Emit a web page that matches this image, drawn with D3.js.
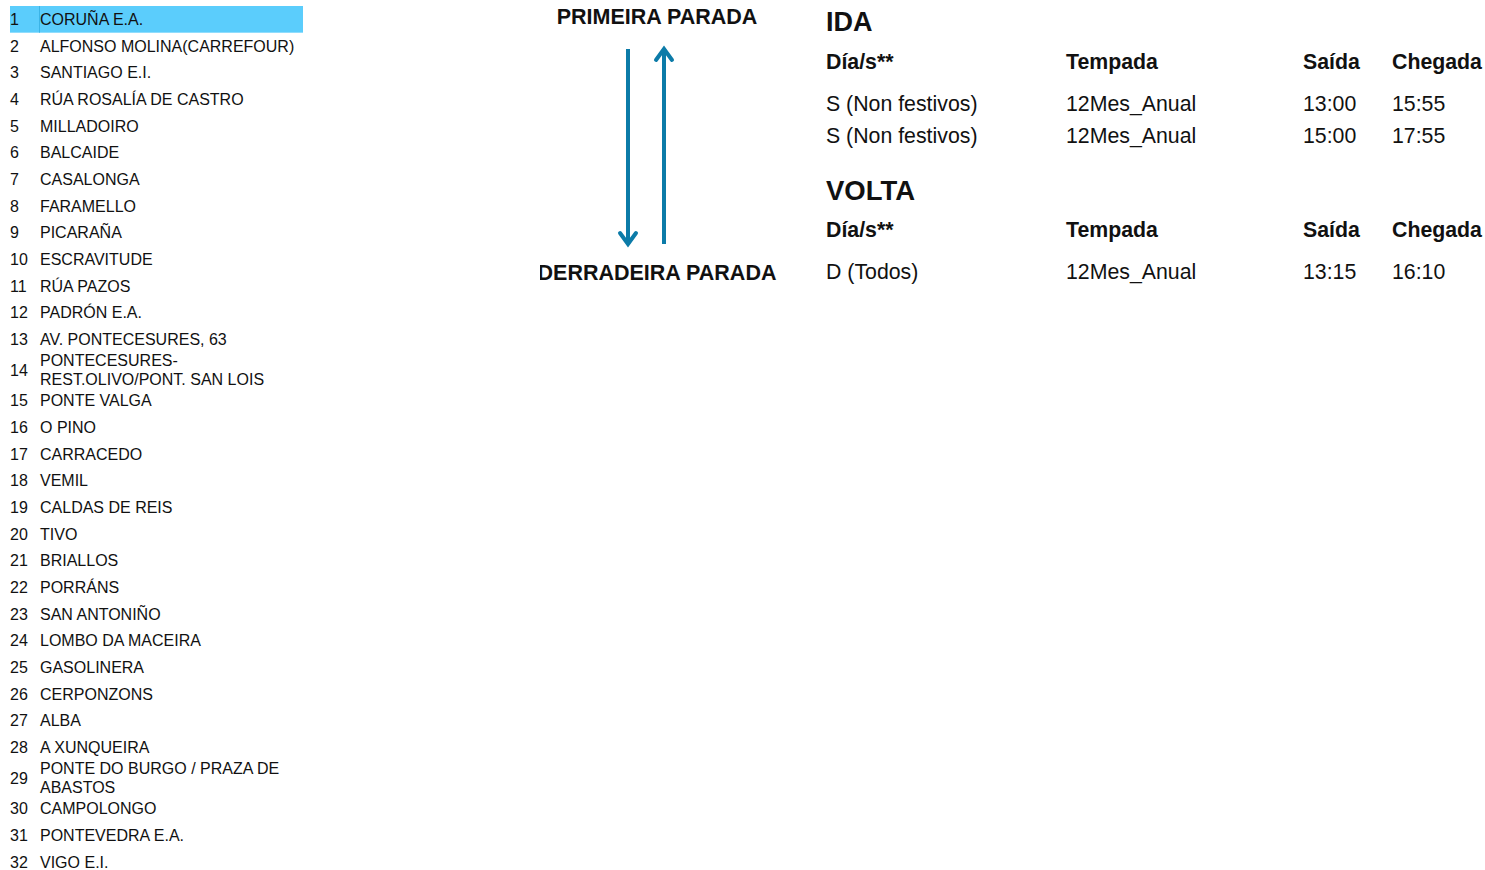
<!DOCTYPE html>
<html>
<head>
<meta charset="utf-8">
<script src="https://cdn.jsdelivr.net/npm/d3@7"></script>
<style>
html,body{margin:0;padding:0;background:#fff;}
svg{display:block;font-family:"Liberation Sans",Arial,sans-serif;}
</style>
</head>
<body>
<svg id="chart" width="1485" height="870"></svg>
<script>
// ---- data ----
const stops = ["CORUÑA E.A.","ALFONSO MOLINA(CARREFOUR)","SANTIAGO E.I.","RÚA ROSALÍA DE CASTRO","MILLADOIRO","BALCAIDE","CASALONGA","FARAMELLO","PICARAÑA","ESCRAVITUDE","RÚA PAZOS","PADRÓN E.A.","AV. PONTECESURES, 63","PONTECESURES-REST.OLIVO/PONT. SAN LOIS","PONTE VALGA","O PINO","CARRACEDO","VEMIL","CALDAS DE REIS","TIVO","BRIALLOS","PORRÁNS","SAN ANTONIÑO","LOMBO DA MACEIRA","GASOLINERA","CERPONZONS","ALBA","A XUNQUEIRA","PONTE DO BURGO / PRAZA DE ABASTOS","CAMPOLONGO","PONTEVEDRA E.A.","VIGO E.I."];
const highlightedStop = 1;
const firstLabel = "PRIMEIRA PARADA";
const lastLabel = "DERRADEIRA PARADA";
const columns = ["Día/s**","Tempada","Saída","Chegada"];
const idaTitle = "IDA";
const idaDays = ["S (Non festivos)","S (Non festivos)"];
const idaSeason = ["12Mes_Anual","12Mes_Anual"];
const idaDepart = ["13:00","15:00"];
const idaArrive = ["15:55","17:55"];
const voltaTitle = "VOLTA";
const voltaDays = ["D (Todos)"];
const voltaSeason = ["12Mes_Anual"];
const voltaDepart = ["13:15"];
const voltaArrive = ["16:10"];

const svg = d3.select("#chart");
const blue = "#0C7BA8";

// ---- stop list ----
const listFont = 16, maxW = 262, lineH = 18.5;
const measure = svg.append("text").attr("font-size", listFont).attr("visibility","hidden");
function tw(s){ measure.text(s); return measure.node().getComputedTextLength(); }
function wrap(s){
  const tokens = s.match(/[^ \-]+-?|\s+/g) || [s];
  const lines = []; let cur = "";
  tokens.forEach(t=>{
    const cand = cur + t;
    if (cur.trim() && tw(cand.trimEnd()) > maxW) { lines.push(cur.trimEnd()); cur = t.trimStart(); }
    else cur = cand;
  });
  if (cur.trim()) lines.push(cur.trimEnd());
  return lines;
}
const rows = stops.map((s,i)=>({num:i+1, name:s, lines:wrap(s)}));
measure.remove();
const singleH = 26.67, doubleH = 34.6;
let acc = 0;
rows.forEach(r=>{ r.h = r.lines.length>1 ? doubleH : singleH; r.top = acc; acc += r.h; });
const yList = d3.scaleLinear().domain([0, acc]).range([6, 6 + acc]);

const list = svg.append("g");
const rowG = list.selectAll("g.row").data(rows).join("g").attr("class","row")
  .attr("transform", d=>`translate(0,${yList(d.top)})`);
rowG.filter(d=>d.num===highlightedStop).append("rect")
  .attr("x",10).attr("y",0).attr("width",293).attr("height",d=>d.h).attr("fill","#5BCDFC");
rowG.filter(d=>d.num===highlightedStop).append("line")
  .attr("x1",39.5).attr("x2",39.5).attr("y1",0).attr("y2",d=>d.h).attr("stroke","#3BB4E6").attr("stroke-width",1);
rowG.append("text").attr("x",10).attr("y",d=>d.h/2).attr("dy","0.35em")
  .attr("font-size",listFont).attr("fill","#111").text(d=>d.num);
rowG.each(function(d){
  const t = d3.select(this).append("text").attr("x",40).attr("font-size",listFont).attr("fill","#111");
  const n = d.lines.length;
  d.lines.forEach((ln,k)=>{
    t.append("tspan").attr("x",40).attr("y", d.h/2 + (k-(n-1)/2)*lineH).attr("dy","0.35em").text(ln);
  });
});

// ---- direction arrows ----
const yArrow = d3.scaleLinear().domain([0,1]).range([48, 245]);
svg.append("defs").append("clipPath").attr("id","clipMid")
  .append("rect").attr("x",540).attr("y",0).attr("width",280).attr("height",300);
const mid = svg.append("g");
mid.append("text").attr("x",657).attr("y",16).attr("dy","0.35em").attr("text-anchor","middle")
  .attr("font-size",21.5).attr("font-weight","bold").attr("fill","#111").text(firstLabel);
mid.append("text").attr("x",657).attr("y",272).attr("dy","0.35em").attr("text-anchor","middle")
  .attr("clip-path","url(#clipMid)")
  .attr("font-size",21.5).attr("font-weight","bold").attr("fill","#111").text(lastLabel);
// down arrow
mid.append("line").attr("x1",628).attr("x2",628).attr("y1",yArrow(0)+1).attr("y2",yArrow(1)-2)
  .attr("stroke",blue).attr("stroke-width",4);
mid.append("path").attr("d",`M620,${yArrow(1)-12} L628,${yArrow(1)-1} L636,${yArrow(1)-12}`)
  .attr("fill","none").attr("stroke",blue).attr("stroke-width",4).attr("stroke-linecap","round").attr("stroke-linejoin","miter");
// up arrow
mid.append("line").attr("x1",664).attr("x2",664).attr("y1",yArrow(1)-1).attr("y2",yArrow(0)+2)
  .attr("stroke",blue).attr("stroke-width",4);
mid.append("path").attr("d",`M656,${yArrow(0)+12} L664,${yArrow(0)+1} L672,${yArrow(0)+12}`)
  .attr("fill","none").attr("stroke",blue).attr("stroke-width",4).attr("stroke-linecap","round").attr("stroke-linejoin","miter");

// ---- timetables ----
const xCol = d3.scaleOrdinal().domain(columns).range([826,1066,1303,1392]);
const cellFont = 21.3;
function table(title, days, season, dep, arr, yTitle, yHead, yRow0, rowStep, titleSize){
  const g = svg.append("g");
  g.append("text").attr("x",826).attr("y",yTitle).attr("dy","0.35em")
    .attr("font-size",titleSize).attr("font-weight","bold").attr("fill","#111").text(title);
  g.selectAll("text.h").data(columns).join("text").attr("class","h")
    .attr("x",d=>xCol(d)).attr("y",yHead).attr("dy","0.35em")
    .attr("font-size",cellFont).attr("font-weight","bold").attr("fill","#111").text(d=>d);
  const data = days.map((d,i)=>[d,season[i],dep[i],arr[i]]);
  const yRow = d3.scaleLinear().domain([0,1]).range([yRow0, yRow0+rowStep]);
  data.forEach((r,i)=>{
    g.selectAll(null).data(r).join("text")
      .attr("x",(d,j)=>xCol(columns[j])).attr("y",yRow(i)).attr("dy","0.35em")
      .attr("font-size",cellFont).attr("fill","#111").text(d=>d);
  });
}
table(idaTitle, idaDays, idaSeason, idaDepart, idaArrive, 22, 62, 104, 32, 27);
table(voltaTitle, voltaDays, voltaSeason, voltaDepart, voltaArrive, 190, 230, 272, 32, 27.5);
</script>
</body>
</html>
